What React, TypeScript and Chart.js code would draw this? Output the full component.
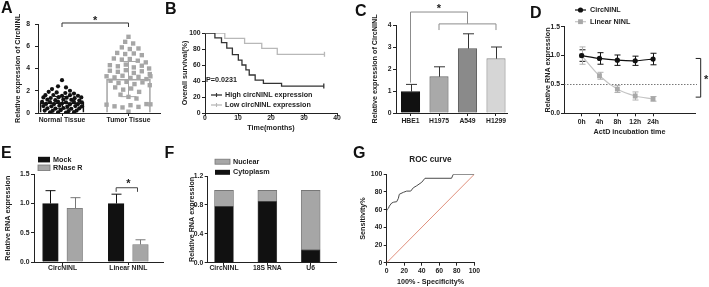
import React, { useEffect, useRef } from 'react';
import { Chart, registerables } from 'chart.js';

Chart.register(...registerables);

// ---------------- data ----------------
// A: scatter dot plot with bar (mean) and SD
const A_categories = ['Normal Tissue', 'Tumor Tissue'];
const A_means = [0.93, 3.05];
const A_sd = [0.55, 1.58];
const A_normalValues = [2.95, 2.4, 2.3, 2.15, 2.0, 1.9, 1.85, 1.8, 1.75, 1.6, 1.62, 1.55, 1.6, 1.55, 1.4, 1.35, 1.42, 1.38, 1.33, 1.4, 1.2, 1.15, 1.22, 1.18, 1.12, 1.0, 0.98, 1.02, 0.96, 1.0, 0.95, 0.82, 0.8, 0.85, 0.78, 0.8, 0.62, 0.6, 0.65, 0.58, 0.62, 0.6, 0.42, 0.4, 0.45, 0.38, 0.42, 0.22, 0.2, 0.25, 0.18, 0.22, 0.05, 0.06, 0.04, 0.07];
const A_normalOffsets = [0, -0.06, 0.06, -0.15, 0.12, -0.2, -0.08, 0.05, 0.18, -0.25, -0.13, 0, 0.12, 0.24, -0.28, -0.17, -0.05, 0.07, 0.19, 0.29, -0.22, -0.1, 0.02, 0.14, 0.26, -0.3, -0.18, -0.06, 0.06, 0.18, 0.3, -0.24, -0.12, 0, 0.12, 0.24, -0.28, -0.16, -0.04, 0.08, 0.2, 0.3, -0.22, -0.1, 0.02, 0.14, 0.26, -0.26, -0.14, -0.02, 0.1, 0.22, -0.18, -0.06, 0.06, 0.18];
const A_tumorValues = [6.85, 6.4, 6.25, 5.9, 5.75, 5.8, 5.4, 5.3, 5.35, 5.2, 4.9, 4.8, 4.85, 4.7, 4.55, 4.3, 4.2, 4.35, 4.1, 4.25, 4.0, 3.8, 3.7, 3.85, 3.6, 3.75, 3.5, 3.3, 3.2, 3.35, 3.15, 3.25, 3.05, 3.3, 2.9, 2.7, 2.8, 2.6, 2.75, 2.5, 2.3, 2.1, 2.2, 1.9, 1.65, 1.45, 1.3, 0.75, 0.6, 0.5, 0.7, 0.55, 0.8, 0.78, 0.12];
const A_tumorOffsets = [0, -0.05, 0.07, -0.1, 0.02, 0.15, -0.17, -0.05, 0.08, 0.2, -0.22, -0.1, 0.02, 0.14, 0.26, -0.28, -0.16, -0.04, 0.08, 0.2, 0.31, -0.28, -0.16, -0.04, 0.08, 0.2, 0.32, -0.33, -0.21, -0.09, 0.03, 0.15, 0.27, 0.33, -0.27, -0.15, -0.03, 0.09, 0.21, 0.32, -0.2, -0.08, 0.04, 0.16, -0.12, 0, 0.12, -0.33, -0.21, -0.09, 0.03, 0.15, 0.27, 0.33, 0];

// B: Kaplan-Meier
const B_series = ['High circNINL expression', 'Low circNINL expression'];
const B_highTime = [0, 3, 5, 6.6, 8.3, 10.1, 11.2, 12.4, 13.4, 15.2, 17.7, 23.2, 36];
const B_highSurv = [100, 94, 88, 81, 73, 66, 60, 54, 47.5, 41, 37, 33.7, 33.7];
const B_lowTime = [0, 6, 12, 17.2, 21.9, 36.2];
const B_lowSurv = [100, 93.3, 87, 80.8, 73.4, 73.4];
const B_pText = 'P=0.0231';
const B_xTicks = [0, 10, 20, 30, 40];

// C: cell lines
const C_categories = ['HBE1', 'H1975', 'A549', 'H1299'];
const C_means = [0.97, 1.65, 2.93, 2.47];
const C_sd = [0.33, 0.45, 0.67, 0.53];

// D: ActD time course
const D_times = ['0h', '4h', '8h', '12h', '24h'];
const D_series = ['CircNINL', 'Linear NINL'];
const D_circ = [1.0, 0.95, 0.92, 0.91, 0.94];
const D_circSd = [0.1, 0.1, 0.09, 0.08, 0.1];
const D_linear = [1.0, 0.65, 0.42, 0.3, 0.25];
const D_linearSd = [0.15, 0.06, 0.06, 0.07, 0.04];
const D_threshold = 0.5;

// E: RNase R
const E_groups = ['CircNINL', 'Linear NINL'];
const E_series = ['Mock', 'RNase R'];
const E_mock = [1.0, 1.0];
const E_mockSd = [0.22, 0.16];
const E_rnase = [0.92, 0.3];
const E_rnaseSd = [0.18, 0.08];

// F: nuclear / cytoplasm fractions
const F_categories = ['CircNINL', '18S RNA', 'U6'];
const F_series = ['Nuclear', 'Cytoplasm'];
const F_cytoplasm = [0.78, 0.85, 0.18];
const F_nuclear = [0.22, 0.15, 0.82];

// G: ROC
const G_fpr = [0, 0, 2, 3, 5.7, 8, 11.4, 13.3, 14.4, 19, 22.8, 27.4, 30.4, 34.2, 40, 43.7, 74, 76, 100];
const G_tpr = [58, 59.6, 61.5, 64, 67.5, 68.5, 69, 72.8, 77.4, 79.6, 81, 81, 84.8, 87, 91, 95.5, 95.5, 100, 100];

// ---------------- style / layout ----------------
const FONT = '"Liberation Sans", Arial, Helvetica, sans-serif';
const INK = '#222222';
const W = 709;
const H = 287;
const TICK = 6.8;
const TTL = 7.2;
const LH = TTL * 1.2;

Chart.defaults.font.family = FONT;
Chart.defaults.color = INK;

type Geo = { axisX: number; right: number; top: number; axisY: number; titleX: number; xH: number };

function padOf(g: Geo) {
  const left = Math.max(0, Math.floor(g.titleX - LH / 2));
  return { left, right: W - g.right, top: g.top, bottom: H - g.axisY - g.xH };
}

const tickFont = { size: TICK, weight: 'bold' as const, family: FONT };
const titleFont = { size: TTL, weight: 'bold' as const, family: FONT };

function yAxis(g: Geo, min: number, max: number, step: number, title: string, decimals: number, tickPad: number, extra: any = {}) {
  const p = padOf(g);
  return {
    type: 'linear', position: 'left', min, max, offset: false, ...extra,
    ticks: { stepSize: step, autoSkip: false, font: tickFont, color: INK, padding: tickPad, callback: (v: any) => Number(v).toFixed(decimals) },
    grid: { drawOnChartArea: false, drawTicks: true, tickLength: 3, color: INK, lineWidth: 1, offset: false },
    border: { display: true, color: INK, width: 1 },
    title: { display: true, text: title, color: INK, font: titleFont, padding: { top: g.titleX - p.left - LH / 2, bottom: 0 } },
    afterFit: (s: any) => { s.width = g.axisX - p.left; s.paddingTop = 0; s.paddingBottom = 0; },
  };
}

function xAxis(g: Geo, min: number, max: number, tickValues: number[], labels: string[] | null, title: string | null, tickPad: number) {
  return {
    type: 'linear', position: 'bottom', min, max, offset: false,
    afterBuildTicks: (s: any) => { s.ticks = tickValues.map((v) => ({ value: v })); },
    ticks: { autoSkip: false, maxRotation: 0, minRotation: 0, font: tickFont, color: INK, padding: tickPad, callback: (v: any, i: number) => (labels ? labels[i] : String(v)) },
    grid: { drawOnChartArea: false, drawTicks: true, tickLength: 3, color: INK, lineWidth: 1, offset: false },
    border: { display: true, color: INK, width: 1 },
    title: title ? { display: true, text: title, color: INK, font: titleFont, padding: { top: 0, bottom: 0 } } : { display: false },
    afterFit: (s: any) => { s.height = g.xH; s.paddingLeft = 0; s.paddingRight = 0; },
  };
}

function baseOptions(g: Geo, scales: any) {
  return {
    responsive: false, maintainAspectRatio: false, animation: false, events: [], devicePixelRatio: 1,
    layout: { padding: padOf(g) },
    scales,
    plugins: { legend: { display: false }, tooltip: { enabled: false }, title: { display: false } },
  };
}

type ErrItem = { ds: number; err: number[]; color: string; cap: number; both?: boolean; under?: boolean };
function errPlugin(items: ErrItem[]) {
  const draw = (chart: any, under: boolean) => {
    const ctx = chart.ctx;
    const ys = chart.scales.y;
    items.filter((it) => !!it.under === under).forEach((it) => {
      const meta = chart.getDatasetMeta(it.ds);
      const data = chart.data.datasets[it.ds].data;
      meta.data.forEach((el: any, i: number) => {
        const e = it.err[i];
        if (e == null) return;
        const raw = data[i];
        const v = typeof raw === 'number' ? raw : raw.y;
        const x = Math.round(el.x) + 0.5;
        const y1 = ys.getPixelForValue(v + e);
        const y0 = ys.getPixelForValue(it.both ? v - e : v);
        ctx.save();
        ctx.strokeStyle = it.color;
        ctx.lineWidth = 1;
        ctx.beginPath();
        ctx.moveTo(x, y0); ctx.lineTo(x, y1);
        ctx.moveTo(x - it.cap / 2, y1); ctx.lineTo(x + it.cap / 2, y1);
        if (it.both) { ctx.moveTo(x - it.cap / 2, y0); ctx.lineTo(x + it.cap / 2, y0); }
        ctx.stroke();
        ctx.restore();
      });
    });
  };
  return { id: 'errbars', beforeDatasetsDraw: (c: any) => draw(c, true), afterDatasetsDraw: (c: any) => draw(c, false) };
}

function txt(ctx: CanvasRenderingContext2D, s: string, x: number, y: number, size: number, align: CanvasTextAlign = 'left', color = INK) {
  ctx.save();
  ctx.font = `bold ${size}px ${FONT}`;
  ctx.fillStyle = color;
  ctx.textAlign = align;
  ctx.textBaseline = 'middle';
  ctx.fillText(s, x, y);
  ctx.restore();
}
function poly(ctx: CanvasRenderingContext2D, pts: number[][], color: string, width = 1, dash: number[] = []) {
  ctx.save();
  ctx.strokeStyle = color;
  ctx.lineWidth = width;
  ctx.setLineDash(dash);
  ctx.beginPath();
  pts.forEach(([x, y], i) => (i ? ctx.lineTo(x, y) : ctx.moveTo(x, y)));
  ctx.stroke();
  ctx.restore();
}
function star(ctx: CanvasRenderingContext2D, x: number, y: number) {
  txt(ctx, '*', x, y + 2.5, 11, 'center');
}

// ---------------- panels ----------------
function cfgA() {
  const g: Geo = { axisX: 38, right: 160, top: 24, axisY: 113, titleX: 18, xH: 12 };
  const n = Math.min(A_normalValues.length, A_normalOffsets.length);
  const t = Math.min(A_tumorValues.length, A_tumorOffsets.length);
  return {
    type: 'bar',
    data: {
      datasets: [
        { type: 'scatter', order: 1, data: A_normalValues.slice(0, n).map((v, i) => ({ x: 1 + A_normalOffsets[i], y: v })), pointStyle: 'circle', pointRadius: 2.1, pointBackgroundColor: '#111', pointBorderWidth: 0 },
        { type: 'scatter', order: 1, data: A_tumorValues.slice(0, t).map((v, i) => ({ x: 2 + A_tumorOffsets[i], y: v })), pointStyle: 'rect', pointRadius: 3.1, pointBackgroundColor: '#a6a6a6', pointBorderWidth: 0 },
        { type: 'bar', order: 2, grouped: false, barThickness: 44, data: A_means.map((v, i) => ({ x: i + 1, y: v })), backgroundColor: 'rgba(255,255,255,0)', borderColor: ['#111', '#a6a6a6'], borderWidth: 1 },
      ],
    },
    options: baseOptions(g, {
      x: xAxis(g, 0.639, 2.474, [1, 2], A_categories, null, 0),
      y: yAxis(g, 0, 8, 2, 'Relative expression of CircNINL', 0, 5),
    }),
    plugins: [
      errPlugin([
        { ds: 2, err: A_sd.slice(0, 1).concat([null as any]), color: '#111', cap: 16, both: true },
        { ds: 2, err: [null as any, A_sd[1]], color: '#a6a6a6', cap: 16, both: true },
      ]),
      {
        id: 'annA',
        afterDraw(chart: any) {
          const { x, y } = chart.scales;
          const ctx = chart.ctx;
          const x1 = x.getPixelForValue(1), x2 = x.getPixelForValue(2);
          const yl = y.getPixelForValue(8.09), yb = y.getPixelForValue(7.73);
          poly(ctx, [[x1, yb], [x1, yl], [x2, yl], [x2, yb]], '#333');
          star(ctx, (x1 + x2) / 2, y.getPixelForValue(8.48));
        },
      },
    ],
  };
}

function cfgB() {
  const g: Geo = { axisX: 205, right: 337, top: 33, axisY: 113, titleX: 185.5, xH: 128.3 + LH / 2 - 113 };
  const hi = B_highTime.map((tm, i) => ({ x: tm, y: B_highSurv[i] }));
  const lo = B_lowTime.map((tm, i) => ({ x: tm, y: B_lowSurv[i] }));
  const censor = (arr: any[]) => arr.map((_, i) => (i === arr.length - 1 ? 2.5 : 0));
  return {
    type: 'line',
    data: {
      datasets: [
        { label: B_series[0], data: hi, stepped: 'before', borderColor: '#333', borderWidth: 1.3, pointStyle: 'line', pointRotation: 90, pointRadius: censor(hi), pointBorderColor: '#333', pointBorderWidth: 1.3, fill: false },
        { label: B_series[1], data: lo, stepped: 'before', borderColor: '#b8b8b8', borderWidth: 1.3, pointStyle: 'line', pointRotation: 90, pointRadius: censor(lo), pointBorderColor: '#b8b8b8', pointBorderWidth: 1.3, fill: false },
      ],
    },
    options: baseOptions(g, {
      x: xAxis(g, 0, 40, B_xTicks, null, 'Time(months)', -1.5),
      y: yAxis(g, 0, 100, 20, 'Overall survival(%)', 0, 1.5),
    }),
    plugins: [
      {
        id: 'annB',
        afterDraw(chart: any) {
          const ctx = chart.ctx;
          txt(ctx, B_pText, 206, 80, 7.2);
          const items = [{ c: '#333', y: 95 }, { c: '#b8b8b8', y: 105 }];
          items.forEach((it, i) => {
            poly(ctx, [[211, it.y], [222, it.y]], it.c, 1.3);
            poly(ctx, [[216.5, it.y - 2], [216.5, it.y + 2]], it.c, 1.1);
            txt(ctx, B_series[i], 225, it.y, 7.2);
          });
        },
      },
    ],
  };
}

function cfgC() {
  const g: Geo = { axisX: 396, right: 507, top: 25, axisY: 113, titleX: 375, xH: 12 };
  return {
    type: 'bar',
    data: {
      datasets: [
        { type: 'bar', grouped: false, barThickness: 18.5, data: C_means.map((v, i) => ({ x: i + 1, y: v })), backgroundColor: ['#111111', '#a9a9a9', '#8a8a8a', '#d6d6d6'], borderColor: ['#111', '#6a6a6a', '#555', '#8a8a8a'], borderWidth: 0.8 },
      ],
    },
    options: baseOptions(g, {
      x: xAxis(g, 0.491, 4.386, [1, 2, 3, 4], C_categories, null, 1.5),
      y: yAxis(g, 0, 4, 1, 'Relative expression of CircNINL', 0, 1.5),
    }),
    plugins: [
      errPlugin([{ ds: 0, err: C_sd, color: '#333', cap: 11 }]),
      {
        id: 'annC',
        afterDraw(chart: any) {
          const { x, y } = chart.scales;
          const ctx = chart.ctx;
          const px = (v: number) => x.getPixelForValue(v);
          const py = (v: number) => y.getPixelForValue(v);
          const col = '#8c8c8c';
          poly(ctx, [[px(1), py(1.38)], [px(1), py(4.59)], [px(3), py(4.59)], [px(3), py(4.05)]], col);
          poly(ctx, [[px(2), py(3.77)], [px(2), py(4.05)], [px(4), py(4.05)], [px(4), py(3.77)]], col);
          star(ctx, px(2), py(4.86));
        },
      },
    ],
  };
}

function cfgD() {
  const g: Geo = { axisX: 564, right: 695, top: 26.7, axisY: 113.3, titleX: 548, xH: 131.7 + LH / 2 - 113.3 };
  return {
    type: 'line',
    data: {
      datasets: [
        { label: D_series[0], data: D_circ.map((v, i) => ({ x: i + 1, y: v })), borderColor: '#111', borderWidth: 1.2, tension: 0.2, pointStyle: 'circle', pointRadius: 2.6, pointBackgroundColor: '#111', pointBorderWidth: 0, fill: false },
        { label: D_series[1], data: D_linear.map((v, i) => ({ x: i + 1, y: v })), borderColor: '#c4c4c4', borderWidth: 1.2, tension: 0.3, pointStyle: 'rect', pointRadius: 3.4, pointBackgroundColor: '#a8a8a8', pointBorderWidth: 0, fill: false },
      ],
    },
    options: baseOptions(g, {
      x: xAxis(g, 0.011, 7.35, [1, 2, 3, 4, 5], D_times, 'ActD incubation time', 1.3),
      y: yAxis(g, 0, 1.5, 0.5, 'Relative RNA expression', 1, 1),
    }),
    plugins: [
      errPlugin([
        { ds: 0, err: D_circSd, color: '#111', cap: 6, both: true, under: true },
        { ds: 1, err: D_linearSd, color: '#b0b0b0', cap: 6, both: true, under: true },
      ]),
      {
        id: 'annD',
        beforeDatasetsDraw(chart: any) {
          const { y } = chart.scales;
          const a = chart.chartArea;
          const yy = Math.round(y.getPixelForValue(D_threshold)) + 0.5;
          poly(chart.ctx, [[a.left, yy], [a.right + 2, yy]], '#555', 0.8, [1.5, 1.5]);
        },
        afterDraw(chart: any) {
          const { y } = chart.scales;
          const a = chart.chartArea;
          const ctx = chart.ctx;
          const bx = a.right + 5.7;
          const yTop = y.getPixelForValue(0.95), yBot = y.getPixelForValue(0.28);
          poly(ctx, [[bx - 5, yTop], [bx, yTop], [bx, yBot], [bx - 5, yBot]], '#222');
          star(ctx, bx + 5.5, (yTop + yBot) / 2);
          // legend
          poly(ctx, [[575, 10], [586, 10]], '#111', 1.2);
          ctx.save(); ctx.fillStyle = '#111'; ctx.beginPath(); ctx.arc(580.5, 10, 2.6, 0, Math.PI * 2); ctx.fill(); ctx.restore();
          txt(ctx, D_series[0], 590, 10, 7.2);
          poly(ctx, [[575, 21.7], [586, 21.7]], '#c4c4c4', 1.2);
          ctx.save(); ctx.fillStyle = '#a8a8a8'; ctx.fillRect(578.1, 19.3, 4.8, 4.8); ctx.restore();
          txt(ctx, D_series[1], 590, 21.7, 7.2);
        },
      },
    ],
  };
}

function cfgE() {
  const g: Geo = { axisX: 34, right: 163, top: 174.3, axisY: 262, titleX: 8.3, xH: 12 };
  const off = 0.185;
  return {
    type: 'bar',
    data: {
      datasets: [
        { type: 'bar', label: E_series[0], grouped: false, barThickness: 15.6, data: E_mock.map((v, i) => ({ x: i + 1 - off, y: v })), backgroundColor: '#111', borderColor: '#111', borderWidth: 0.8 },
        { type: 'bar', label: E_series[1], grouped: false, barThickness: 15.6, data: E_rnase.map((v, i) => ({ x: i + 1 + off, y: v })), backgroundColor: '#a6a6a6', borderColor: '#777', borderWidth: 0.8 },
      ],
    },
    options: baseOptions(g, {
      x: xAxis(g, 0.565, 2.528, [1, 2], E_groups, null, -0.8),
      y: yAxis(g, 0, 1.5, 0.5, 'Relative RNA expression', 1, 1.5),
    }),
    plugins: [
      errPlugin([
        { ds: 0, err: E_mockSd, color: '#111', cap: 10 },
        { ds: 1, err: E_rnaseSd, color: '#777', cap: 10 },
      ]),
      {
        id: 'annE',
        afterDraw(chart: any) {
          const { x, y } = chart.scales;
          const ctx = chart.ctx;
          const x1 = x.getPixelForValue(2 - off), x2 = x.getPixelForValue(2 + 0.14);
          const yl = y.getPixelForValue(1.27), yb = y.getPixelForValue(1.2);
          poly(ctx, [[x1, yb], [x1, yl], [x2, yl], [x2, yb]], '#444');
          star(ctx, x.getPixelForValue(2), y.getPixelForValue(1.375));
          ctx.save();
          ctx.fillStyle = '#111'; ctx.fillRect(38, 156.8, 12, 5.6);
          ctx.fillStyle = '#a6a6a6'; ctx.fillRect(38, 165, 12, 5.6);
          ctx.strokeStyle = '#777'; ctx.lineWidth = 0.8; ctx.strokeRect(38, 165, 12, 5.6);
          ctx.restore();
          txt(ctx, E_series[0], 53, 159.6, 7.2);
          txt(ctx, E_series[1], 53, 167.8, 7.2);
        },
      },
    ],
  };
}

function cfgF() {
  const g: Geo = { axisX: 207.7, right: 336.7, top: 176, axisY: 262.7, titleX: 191.7, xH: 12 };
  return {
    type: 'bar',
    data: {
      datasets: [
        { type: 'bar', label: F_series[1], grouped: false, barThickness: 19, data: F_cytoplasm.map((v, i) => ({ x: i + 1, y: v })), backgroundColor: '#111', borderColor: '#555', borderWidth: 0.8 },
        { type: 'bar', label: F_series[0], grouped: false, barThickness: 19, data: F_nuclear.map((v, i) => ({ x: i + 1, y: v })), backgroundColor: '#a6a6a6', borderColor: '#777', borderWidth: 0.8 },
      ],
    },
    options: baseOptions(g, {
      x: xAxis(g, 0.624, 3.6, [1, 2, 3], F_categories, null, -1.5),
      y: yAxis(g, 0, 1.2, 0.4, 'Relative RNA expression', 1, 1.5, { stacked: true }),
    }),
    plugins: [
      {
        id: 'annF',
        afterDraw(chart: any) {
          const ctx = chart.ctx;
          ctx.save();
          ctx.fillStyle = '#a6a6a6'; ctx.fillRect(215, 159.2, 15, 5);
          ctx.strokeStyle = '#777'; ctx.lineWidth = 0.8; ctx.strokeRect(215, 159.2, 15, 5);
          ctx.fillStyle = '#111'; ctx.fillRect(215, 169.8, 15, 5);
          ctx.restore();
          txt(ctx, F_series[0], 233, 161.7, 7.2);
          txt(ctx, F_series[1], 233, 172.3, 7.2);
        },
      },
    ],
  };
}

function cfgG() {
  const g: Geo = { axisX: 386.7, right: 474.3, top: 174.3, axisY: 262.7, titleX: 363, xH: 281.7 + LH / 2 - 262.7 };
  return {
    type: 'line',
    data: {
      datasets: [
        { label: 'ROC', data: G_fpr.map((v, i) => ({ x: v, y: G_tpr[i] })), borderColor: '#4a4a4a', borderWidth: 1, pointRadius: 0, tension: 0, fill: false },
        { label: 'ref', data: [{ x: 0, y: 0 }, { x: 100, y: 100 }], borderColor: '#e0907d', borderWidth: 1, pointRadius: 0, fill: false },
      ],
    },
    options: baseOptions(g, {
      x: xAxis(g, 0, 100, [0, 20, 40, 60, 80, 100], null, '100% - Specificity%', 1.2),
      y: yAxis(g, 0, 100, 20, 'Sensitivity%', 0, 1.5),
    }),
    plugins: [
      {
        id: 'annG',
        afterDraw(chart: any) {
          const a = chart.chartArea;
          txt(chart.ctx, 'ROC curve', (a.left + a.right) / 2, 160, 8.2, 'center');
        },
      },
    ],
  };
}

const LETTERS: [string, number, number][] = [
  ['A', 1, -0.5], ['B', 165, 1], ['C', 355, 3], ['D', 530, 4.5],
  ['E', 1, 144.5], ['F', 164.5, 144.5], ['G', 353, 144.5],
];

function ChartLayer({ make }: { make: () => any }) {
  const ref = useRef<HTMLCanvasElement>(null);
  useEffect(() => {
    const chart = new Chart(ref.current as HTMLCanvasElement, make());
    return () => chart.destroy();
  }, [make]);
  return <canvas ref={ref} width={W} height={H} style={{ position: 'absolute', left: 0, top: 0, width: W, height: H }} />;
}

const MAKERS = [cfgA, cfgB, cfgC, cfgD, cfgE, cfgF, cfgG];

export default function App() {
  return (
    <div style={{ position: 'absolute', left: 0, top: 0, width: W, height: H, background: '#ffffff', overflow: 'hidden' }}>
      {MAKERS.map((m, i) => (
        <ChartLayer key={i} make={m} />
      ))}
      {LETTERS.map(([l, x, y]) => (
        <div key={l} style={{ position: 'absolute', left: x, top: y, fontFamily: FONT, fontWeight: 'bold', fontSize: 16, lineHeight: '16px', color: '#111' }}>
          {l}
        </div>
      ))}
    </div>
  );
}
